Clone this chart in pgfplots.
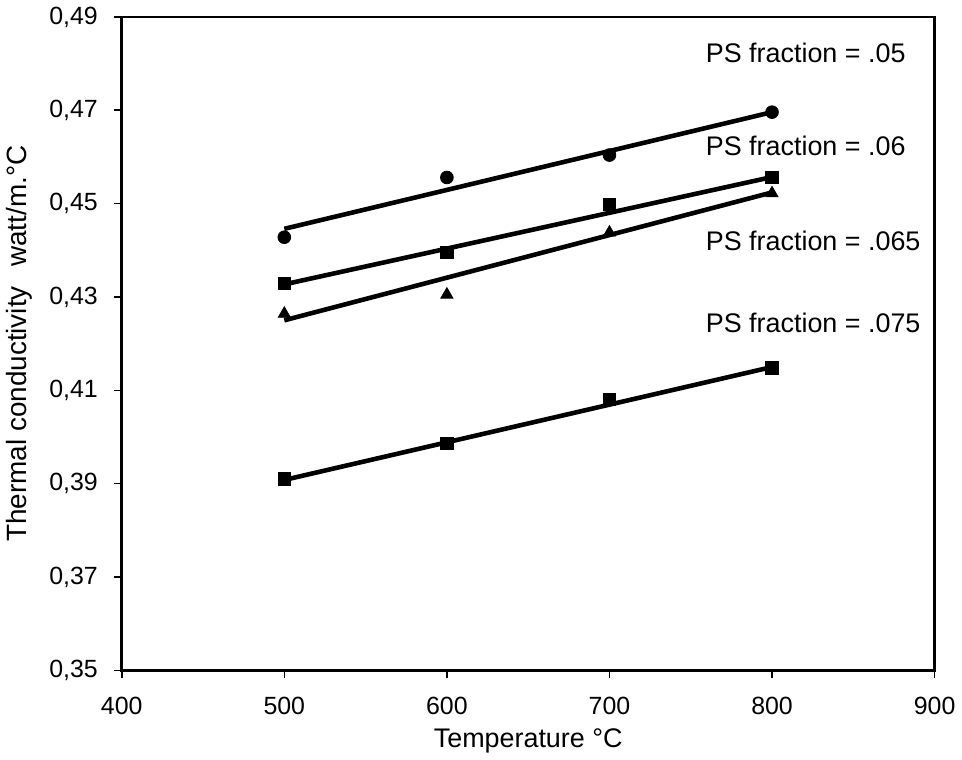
\documentclass[border=0pt]{standalone}
\usepackage{fontspec}
\setmainfont{Liberation Sans}
\usepackage{pgfplots}
\pgfplotsset{compat=1.18}
\begin{document}
\begin{tikzpicture}
\begin{axis}[
  scale only axis,
  width=408pt, height=328pt,
  xmin=400, xmax=900, ymin=0.35, ymax=0.49,
  xtick={400,500,600,700,800,900},
  ytick={0.35,0.37,0.39,0.41,0.43,0.45,0.47,0.49},
  tick align=outside, tick pos=left,
  major tick length=4pt,
  axis line style={line width=1.3pt},
  tick style={line width=0.8pt, black},
  /pgf/number format/assume math mode=true,
  yticklabel style={/pgf/number format/.cd, fixed, fixed zerofill, precision=2, use comma, /tikz/.cd, xshift=-4.5pt},
  xticklabel style={/pgf/number format/.cd, fixed, set thousands separator={}, /tikz/.cd, yshift=-6pt},
  ticklabel style={font=\fontsize{12.5}{14}\selectfont},
  xlabel style={font=\fontsize{13.5}{15}\selectfont},
  ylabel style={font=\fontsize{14}{16}\selectfont, yshift=1.5pt},
  xlabel={Temperature °C},
  ylabel={Thermal conductivity\hspace{0.7em}watt/m.°C},
  clip=false,
]
% fitted lines
\addplot[black, line width=2.3pt] coordinates {(500,0.4446) (800,0.4696)};
\addplot[black, line width=2.3pt] coordinates {(500,0.4327) (800,0.4557)};
\addplot[black, line width=2.3pt] coordinates {(500,0.4250) (800,0.4524)};
\addplot[black, line width=2.3pt] coordinates {(500,0.3908) (800,0.4150)};
% measured points
\addplot[only marks, mark=*, mark size=3.2pt, black] coordinates {(500,0.4428) (600,0.4556) (700,0.4604) (800,0.4696)};
\addplot[only marks, mark=square*, mark size=3.1pt, black] coordinates {(500,0.4329) (600,0.4395) (700,0.4498) (800,0.4556)};
\addplot[only marks, mark=triangle*, mark size=3.5pt, black] coordinates {(500,0.4264) (600,0.4305) (700,0.4438) (800,0.4522)};
\addplot[only marks, mark=square*, mark size=3.1pt, black] coordinates {(500,0.3910) (600,0.3987) (700,0.4080) (800,0.4148)};
\node[anchor=west, font=\fontsize{13.5}{15}\selectfont] at (axis cs:755,0.4822) {PS fraction = .05};
\node[anchor=west, font=\fontsize{13.5}{15}\selectfont] at (axis cs:755,0.4624) {PS fraction = .06};
\node[anchor=west, font=\fontsize{13.5}{15}\selectfont] at (axis cs:755,0.4420) {PS fraction = .065};
\node[anchor=west, font=\fontsize{13.5}{15}\selectfont] at (axis cs:755,0.4245) {PS fraction = .075};
\end{axis}
\end{tikzpicture}
\end{document}
